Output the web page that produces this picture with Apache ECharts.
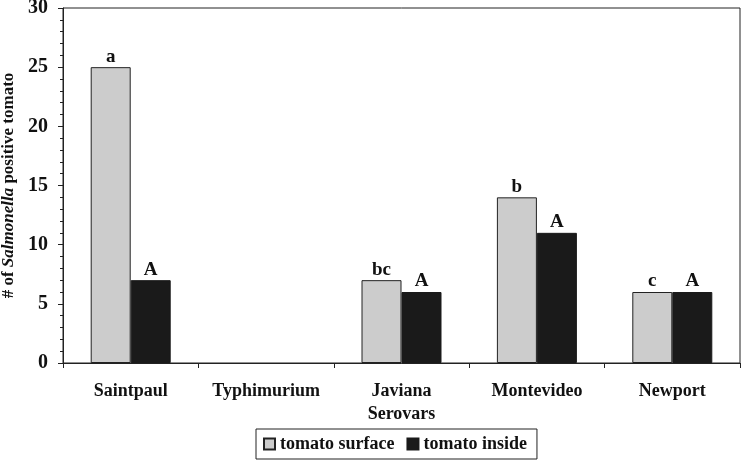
<!DOCTYPE html>
<html>
<head>
<meta charset="utf-8">
<script src="https://cdn.jsdelivr.net/npm/echarts@6/dist/echarts.min.js"></script>
<style>
  html, body { margin: 0; padding: 0; background: #fff; }
  #chart { width: 742px; height: 462px; }
</style>
</head>
<body>
<div id="chart"></div>
<script>
const serovars = ['Saintpaul', 'Typhimurium', 'Javiana', 'Montevideo', 'Newport']
const surfaceValues = [25, 0, 7, 14, 6]
const insideValues = [7, 0, 6, 11, 6]
const surfaceLetters = ['a', '', 'bc', 'b', 'c']
const insideLetters = ['A', '', 'A', 'A', 'A']

const font = 'Liberation Serif'

// zero bars get no outline, so nothing shows on the axis
const toBarData = values => values.map(v => (v === 0 ? { value: v, itemStyle: { borderWidth: 0 } } : v))

const letterLabel = letters => ({
  show: true,
  position: 'top',
  distance: 1,
  fontFamily: font,
  fontWeight: 'bold',
  fontSize: 19,
  color: '#111',
  formatter: p => letters[p.dataIndex]
})

const chart = echarts.init(document.getElementById('chart'))
chart.setOption({
  backgroundColor: '#ffffff',
  animation: false,
  textStyle: { fontFamily: font, fontWeight: 'bold', color: '#111' },
  grid: {
    left: 63,
    right: 2,
    top: 8,
    bottom: 99,
    outerBoundsMode: 'none',
    containLabel: false,
    show: true,
    borderColor: '#222',
    borderWidth: 1,
    backgroundColor: 'transparent'
  },
  legend: {
    left: 256,
    top: 429,
    padding: [6, 10, 6, 7],
    borderColor: '#222',
    borderWidth: 1,
    itemWidth: 11,
    itemHeight: 11,
    itemGap: 12,
    icon: 'rect',
    textStyle: {
      fontFamily: font,
      fontWeight: 'bold',
      fontSize: 18,
      color: '#111'
    },
    data: ['tomato surface', 'tomato inside']
  },
  xAxis: {
    type: 'category',
    data: serovars,
    name: 'Serovars',
    nameLocation: 'middle',
    nameGap: 39,
    nameTextStyle: { fontFamily: font, fontWeight: 'bold', fontSize: 18, color: '#111' },
    axisLine: { lineStyle: { color: '#222', width: 1 } },
    axisTick: { show: true, length: 5, lineStyle: { color: '#222' } },
    axisLabel: { interval: 0, margin: 19, fontFamily: font, fontWeight: 'bold', fontSize: 18, color: '#111' },
    splitLine: { show: false }
  },
  yAxis: {
    type: 'value',
    min: 0,
    max: 30,
    interval: 5,
    name: '# of {i|Salmonella} positive tomato',
    nameLocation: 'middle',
    nameGap: 40,
    nameRotate: 90,
    nameTextStyle: {
      fontFamily: font,
      fontWeight: 'bold',
      fontSize: 17,
      color: '#111',
      rich: {
        i: { fontFamily: font, fontWeight: 'bold', fontStyle: 'italic', fontSize: 17, color: '#111' }
      }
    },
    axisLine: { show: true, lineStyle: { color: '#222', width: 1 } },
    axisTick: { show: true, length: 5, lineStyle: { color: '#222' } },
    minorTick: { show: true, splitNumber: 5, length: 3, lineStyle: { color: '#222' } },
    axisLabel: { margin: 15, fontFamily: font, fontWeight: 'bold', fontSize: 20, color: '#111' },
    splitLine: { show: false }
  },
  series: [
    {
      name: 'tomato surface',
      type: 'bar',
      barWidth: 40,
      barGap: '0%',
      data: toBarData(surfaceValues),
      itemStyle: { color: '#cccccc', borderColor: '#222', borderWidth: 1 },
      label: letterLabel(surfaceLetters)
    },
    {
      name: 'tomato inside',
      type: 'bar',
      barWidth: 40,
      data: toBarData(insideValues),
      itemStyle: { color: '#1a1a1a', borderColor: '#1a1a1a', borderWidth: 1 },
      label: letterLabel(insideLetters)
    }
  ]
})
</script>
</body>
</html>
